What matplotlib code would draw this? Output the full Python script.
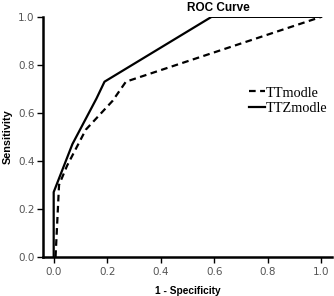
import matplotlib
matplotlib.use("Agg")
import matplotlib.pyplot as plt

# ROC points
tt_fpr = [0.007, 0.02, 0.05, 0.12, 0.22, 0.27, 1.0]
tt_tpr = [0.0, 0.30, 0.38, 0.53, 0.65, 0.73, 1.0]

ttz_fpr = [0.0, 0.0, 0.07, 0.16, 0.19, 0.59, 1.0]
ttz_tpr = [0.0, 0.27, 0.47, 0.66, 0.73, 1.0, 1.0]

ticks = [0.0, 0.2, 0.4, 0.6, 0.8, 1.0]
tick_labels = ["0.0", "0.2", "0.4", "0.6", "0.8", "1.0"]

fig = plt.figure(figsize=(3.34, 2.96), dpi=100)
ax = fig.add_axes([0.1287, 0.132, 0.865, 0.811])

ax.plot(tt_fpr, tt_tpr, color="black", linestyle=(0, (3, 2)), linewidth=1.6, label="TTmodle")
ax.plot(ttz_fpr, ttz_tpr, color="black", linestyle="-", linewidth=1.6, label="TTZmodle")

ax.set_xlim(-0.04, 1.04)
ax.set_ylim(0, 1)
ax.set_xticks(ticks)
ax.set_xticklabels(tick_labels)
ax.set_yticks(ticks)
ax.set_yticklabels(tick_labels)

for s in ["top", "right"]:
    ax.spines[s].set_visible(False)
for s in ["left", "bottom"]:
    ax.spines[s].set_linewidth(1.8)
ax.tick_params(direction="out", length=4, width=1, labelsize=7.5, labelcolor="#555555")
ax.tick_params(axis="x", pad=3)
ax.tick_params(axis="y", pad=2)

lab = {"family": "Liberation Sans", "fontweight": "bold"}
fig.text(0.653, 0.973, "ROC Curve", fontsize=8.5, ha="center", va="center", **lab)
ax.set_xlabel("1 - Specificity", fontsize=7.3, labelpad=7, **lab)
ax.set_ylabel("Sensitivity", fontsize=7.8, labelpad=4, **lab)

leg = ax.legend(loc="upper left", bbox_to_anchor=(0.713, 0.71), frameon=False,
                prop={"family": "Liberation Serif", "size": 10.3}, handlelength=1.1,
                handletextpad=0.05, labelspacing=0.15, borderpad=0, borderaxespad=0)

fig.savefig("out.png", dpi=100)
